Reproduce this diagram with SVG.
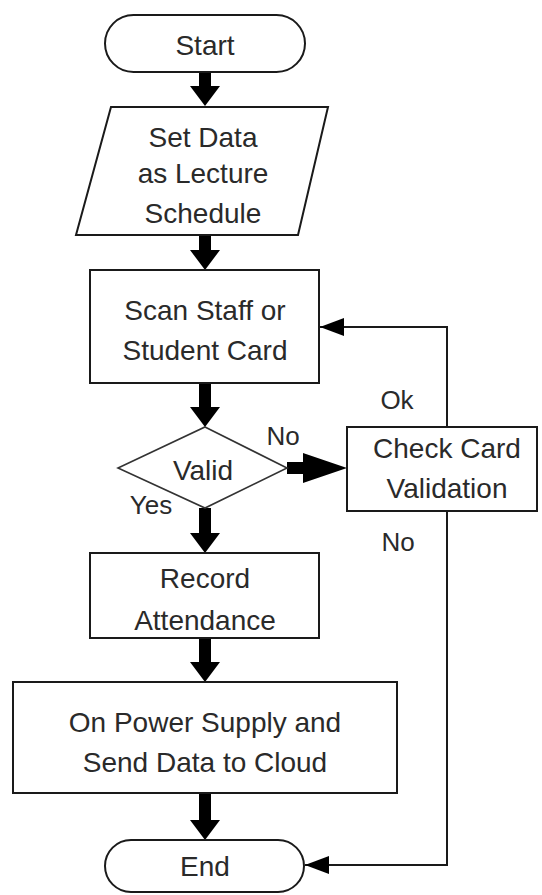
<svg xmlns="http://www.w3.org/2000/svg" width="542" height="895" viewBox="0 0 542 895">
<style>
.box{fill:#fff;stroke:#1a1a1a;stroke-width:2}
.dia{fill:#fff;stroke:#333;stroke-width:1.6}
.t{font-family:"Liberation Sans",Arial,sans-serif;font-size:28px;fill:#2a2a2a;text-anchor:middle}
.l{font-family:"Liberation Sans",Arial,sans-serif;font-size:26px;fill:#2a2a2a;text-anchor:middle}
.thick{fill:#000}
.thin{fill:none;stroke:#1a1a1a;stroke-width:2}
</style>
<defs>
<marker id="ah" markerUnits="userSpaceOnUse" markerWidth="26" markerHeight="20" refX="24" refY="10" orient="auto">
<path d="M0,1 L24,10 L0,19 Z" fill="#000"/>
</marker>
</defs>
<rect width="542" height="895" fill="#fff"/>
<g id="connectors">
<polygon class="thick" points="199,72 211,72 211,86 220,86 205,106 190,86 199,86"/>
<polygon class="thick" points="199,235 211,235 211,250 220,250 205,270 190,250 199,250"/>
<polygon class="thick" points="199,383 211,383 211,407 220,407 205,427 190,407 199,407"/>
<polygon class="thick" points="199,508 211,508 211,533 220,533 205,553 190,533 199,533"/>
<polygon class="thick" points="199,638 211,638 211,662 220,662 205,682 190,662 199,662"/>
<polygon class="thick" points="199,793 211,793 211,820 220,820 205,840 190,820 199,820"/>
<polygon class="thick" points="287,462 303,462 303,453 347,468 303,483 303,474 287,474"/>
<path class="thin" d="M447,427 V327 H320" marker-end="url(#ah)"/>
<path class="thin" d="M447,511 V865 H305" marker-end="url(#ah)"/>
<text class="l" x="283" y="445">No</text>
<text class="l" x="151" y="514">Yes</text>
<text class="l" x="397" y="409">Ok</text>
<text class="l" x="398" y="551">No</text>
</g>
<g id="start">
<rect class="box" x="105" y="15" width="200" height="57" rx="28.5"/>
<text class="t" x="205" y="55">Start</text>
</g>
<g id="setdata">
<polygon class="box" points="111,107 328,107 298,235 76,235"/>
<text class="t" x="203" y="147">Set Data</text>
<text class="t" x="203" y="183">as Lecture</text>
<text class="t" x="203" y="223">Schedule</text>
</g>
<g id="scan">
<rect class="box" x="90" y="270" width="229" height="113"/>
<text class="t" x="205" y="320">Scan Staff or</text>
<text class="t" x="205" y="360">Student Card</text>
</g>
<g id="valid">
<polygon class="dia" points="205,427 287,468 205,508 118,468"/>
<text class="t" x="203" y="480">Valid</text>
</g>
<g id="check">
<rect class="box" x="347" y="427" width="190" height="84"/>
<text class="t" x="447" y="458">Check Card</text>
<text class="t" x="447" y="498">Validation</text>
</g>
<g id="record">
<rect class="box" x="90" y="553" width="229" height="85"/>
<text class="t" x="205" y="588">Record</text>
<text class="t" x="205" y="630">Attendance</text>
</g>
<g id="power">
<rect class="box" x="13" y="682" width="384" height="111"/>
<text class="t" x="205" y="732">On Power Supply and</text>
<text class="t" x="205" y="772">Send Data to Cloud</text>
</g>
<g id="end">
<rect class="box" x="105" y="840" width="199" height="52" rx="26"/>
<text class="t" x="205" y="876">End</text>
</g>
</svg>
